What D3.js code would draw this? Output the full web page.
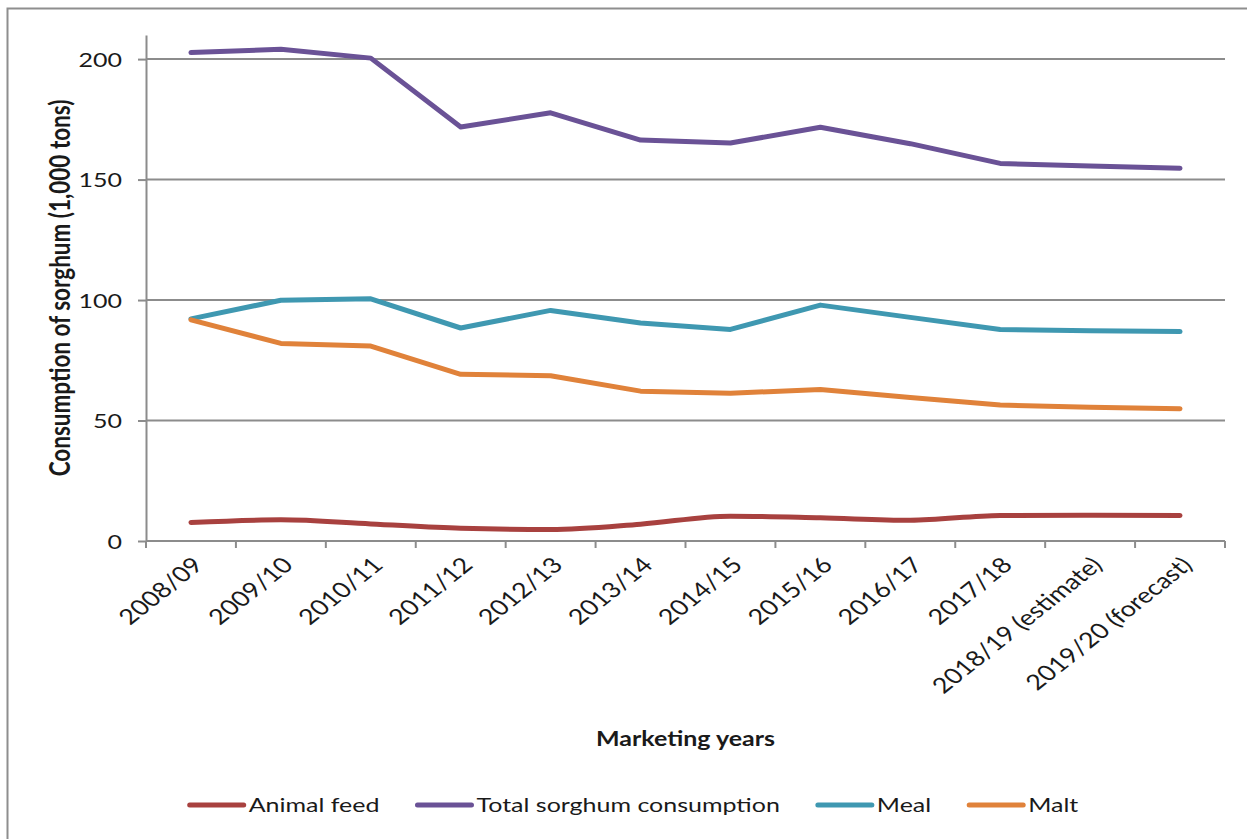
<!DOCTYPE html>
<html>
<head>
<meta charset="utf-8">
<script src="https://cdn.jsdelivr.net/npm/d3@7/dist/d3.min.js"></script>
<style>
  html, body { margin: 0; padding: 0; background: #fff; }
  svg { display: block; }
  text { font-family: Lato, "Open Sans", sans-serif; fill: #1a1a1a; }
</style>
</head>
<body>
<svg id="chart" width="1247" height="839"></svg>
<script>
// ---- data ----
const categories = ["2008/09","2009/10","2010/11","2011/12","2012/13","2013/14","2014/15","2015/16","2016/17","2017/18","2018/19 (estimate)","2019/20 (forecast)"];
const animalFeed = [7.7, 8.8, 7.1, 5.3, 4.8, 7.0, 10.3, 9.6, 8.6, 10.6, 10.7, 10.6];
const totalConsumption = [202.7, 204.1, 200.4, 171.8, 177.7, 166.4, 165.2, 171.7, 164.9, 156.7, 155.6, 154.7];
const meal = [92.2, 99.9, 100.5, 88.4, 95.7, 90.5, 87.8, 97.9, 92.8, 87.8, 87.3, 86.9];
const malt = [91.8, 82.0, 80.9, 69.2, 68.6, 62.2, 61.3, 62.9, 59.6, 56.4, 55.5, 54.9];
const seriesNames = ["Animal feed", "Total sorghum consumption", "Meal", "Malt"];
const yTicks = [0, 50, 100, 150, 200];
const yTitle = "Consumption of sorghum (1,000 tons)";
const xTitle = "Marketing years";

// ---- styling ----
const colors = ["#A8413F", "#6A5296", "#3F98B1", "#E0823A"];
const SX = 1.25;           // horizontal stretch of the reference text
const FS = 18;

const svg = d3.select("#chart");
const plotL = 146, plotR = 1225, plotT = 35, plotB = 541;

const x = d3.scaleBand().domain(categories).range([plotL, plotR]);
const y = d3.scaleLinear().domain([0, 210]).range([plotB, plotT]);

// frame
svg.append("rect").attr("x", 7.5).attr("y", 8.5).attr("width", 1300).attr("height", 900)
  .attr("fill", "none").attr("stroke", "#8e8e8e").attr("stroke-width", 2);

// gridlines
svg.append("g").selectAll("line").data(yTicks.filter(d => d > 0)).join("line")
  .attr("x1", plotL).attr("x2", plotR)
  .attr("y1", d => y(d)).attr("y2", d => y(d))
  .attr("stroke", "#8c8c8c").attr("stroke-width", 2);

// y axis
const yAxis = svg.append("g").attr("transform", `translate(${plotL},0)`)
  .call(d3.axisLeft(y).tickValues(yTicks).tickSize(8).tickSizeOuter(0).tickPadding(0));
yAxis.select(".domain").attr("stroke", "#8c8c8c").attr("stroke-width", 2);
yAxis.selectAll(".tick line").attr("stroke", "#8c8c8c").attr("stroke-width", 2);
yAxis.selectAll(".tick text")
  .attr("x", null).attr("dy", "0.35em")
  .attr("transform", `translate(-24,0) scale(${SX},1)`)
  .style("font-size", (FS + 2) + "px").style("font-family", "Lato, sans-serif").attr("fill", "#1a1a1a");

// x axis line and boundary ticks
const boundaries = d3.range(categories.length + 1).map(i => plotL + i * x.step());
const xg = svg.append("g");
xg.append("line").attr("x1", plotL).attr("x2", plotR).attr("y1", plotB).attr("y2", plotB)
  .attr("stroke", "#8c8c8c").attr("stroke-width", 2);
xg.selectAll("line.tk").data(boundaries).join("line").attr("class", "tk")
  .attr("x1", d => d).attr("x2", d => d).attr("y1", plotB).attr("y2", plotB + 7)
  .attr("stroke", "#8c8c8c").attr("stroke-width", 2);

// x tick labels
xg.selectAll("text.xl").data(categories).join("text").attr("class", "xl")
  .attr("transform", d => `translate(${x(d) + x.bandwidth() / 2 + 7},${plotB + 20}) scale(${SX},1) rotate(-45)`)
  .attr("text-anchor", "end")
  .attr("dy", "0.35em")
  .style("font-size", (FS + 3.5) + "px")
  .text(d => d);

// lines
const seriesData = [animalFeed, totalConsumption, meal, malt];
const line = d3.line().x((d, i) => x(categories[i]) + x.bandwidth() / 2).y(d => y(d));
const lineSmooth = d3.line().x((d, i) => x(categories[i]) + x.bandwidth() / 2).y(d => y(d)).curve(d3.curveMonotoneX);
svg.append("g").selectAll("path").data(seriesData).join("path")
  .attr("d", (d, i) => i === 0 ? lineSmooth(d) : line(d))
  .attr("fill", "none")
  .attr("stroke", (d, i) => colors[i])
  .attr("stroke-width", 5)
  .attr("stroke-linecap", "round")
  .attr("stroke-linejoin", "round");

// axis titles
svg.append("text")
  .attr("transform", `translate(${(plotL + plotR) / 2},746) scale(${SX},1)`)
  .attr("text-anchor", "middle").style("font-size", (FS + 2) + "px").style("font-weight", "bold")
  .text(xTitle);
svg.append("text")
  .attr("transform", `translate(70,288) scale(${SX},1) rotate(-90)`)
  .attr("text-anchor", "middle").style("font-size", (FS + 4.5) + "px").style("font-weight", "bold")
  .text(yTitle);

// legend
const lg = svg.append("g");
const items = lg.selectAll("g").data(seriesNames).join("g");
items.append("line").attr("x1", 0).attr("x2", 54).attr("y1", 0).attr("y2", 0)
  .attr("stroke", (d, i) => colors[i]).attr("stroke-width", 5).attr("stroke-linecap", "round");
items.append("text")
  .attr("transform", `translate(59,0) scale(${SX},1)`)
  .attr("dy", "0.35em").style("font-size", (FS + 2) + "px").text(d => d);
const widths = [];
items.each(function () {
  const w = this.querySelector("text").getComputedTextLength() * SX;
  widths.push(59 + w);
});
const legendW = d3.sum(widths) + 38 * (widths.length - 1);
let cur = 634 - legendW / 2;
items.attr("transform", (d, i) => {
  const t = `translate(${cur},805)`;
  cur += widths[i] + 38;
  return t;
});
</script>
</body>
</html>
